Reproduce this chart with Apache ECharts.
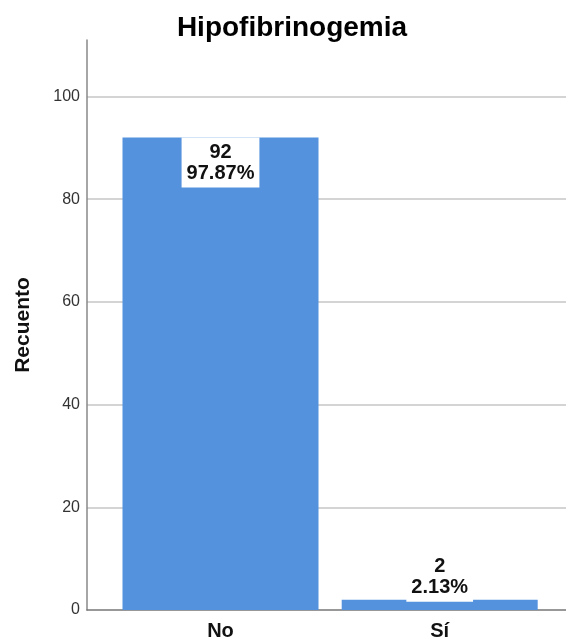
<!DOCTYPE html>
<html>
<head>
<meta charset="utf-8">
<script src="https://cdn.jsdelivr.net/npm/echarts@6/dist/echarts.min.js"></script>
<style>html,body{margin:0;padding:0;background:#fff;}#c{width:566px;height:640px;}</style>
</head>
<body>
<div id="c"></div>
<script>
var categories = ['No', 'Sí'];
var counts = [92, 2];
var percents = ['97.87%', '2.13%'];
var yTicks = [0, 20, 40, 60, 80, 100];
var titleText = 'Hipofibrinogemia';
var yName = 'Recuento';

var FONT = '"Liberation Sans", Arial, sans-serif';
var chart = echarts.init(document.getElementById('c'), null, {renderer: 'canvas'});

var labelBase = {
  show: true,
  fontFamily: FONT,
  fontSize: 20,
  fontWeight: 'bold',
  color: '#111',
  lineHeight: 21,
  backgroundColor: '#fff',
  padding: [4, 5],
  align: 'center'
};

var seriesData = counts.map(function (v, i) {
  var lbl = Object.assign({}, labelBase, {
    formatter: counts[i] + '\n' + percents[i]
  });
  if (v > 50) { lbl.position = 'insideTop'; lbl.distance = 0; }
  else { lbl.position = 'top'; lbl.distance = -2; }
  return { value: v, label: lbl };
});

chart.setOption({
  animation: false,
  backgroundColor: '#fff',
  title: {
    text: titleText,
    left: 287, top: 9, textAlign: 'center',
    textStyle: {fontFamily: FONT, fontSize: 28, fontWeight: 'bold', color: '#000'}
  },
  grid: [
    {left: 87, right: 0, top: 40, bottom: 30, outerBoundsMode: 'none', containLabel: false},
    {left: 110.9, right: 16.7, top: 40, bottom: 30, outerBoundsMode: 'none', containLabel: false}
  ],
  xAxis: [
    {gridIndex: 0, type: 'value', min: 0, max: 1,
     axisLine: {show: true, lineStyle: {color: '#777', width: 1.5}},
     axisTick: {show: false}, axisLabel: {show: false}, splitLine: {show: false}},
    {gridIndex: 1, type: 'category', data: categories,
     axisLine: {show: false}, axisTick: {show: false},
     axisLabel: {fontFamily: FONT, fontSize: 20, fontWeight: 'bold', color: '#111', margin: 11}}
  ],
  yAxis: [
    {gridIndex: 0, type: 'value', min: 0, max: 111, interval: 20,
     name: yName, nameLocation: 'middle', nameRotate: 90, nameGap: 53,
     nameTextStyle: {fontFamily: FONT, fontSize: 21, fontWeight: 'bold', color: '#111'},
     axisLine: {show: true, lineStyle: {color: '#888', width: 1.5}},
     axisTick: {show: false},
     axisLabel: {fontFamily: FONT, fontSize: 16, color: '#333', margin: 7, showMaxLabel: false,
       formatter: function (v) { return yTicks.indexOf(v) >= 0 ? String(v) : ''; }},
     splitLine: {show: true, showMaxLine: false, showMinLine: false, lineStyle: {color: '#d4d4d4', width: 2}}},
    {gridIndex: 1, type: 'value', min: 0, max: 111, show: false}
  ],
  series: [{
    type: 'bar',
    xAxisIndex: 1, yAxisIndex: 1,
    barWidth: 196,
    itemStyle: {color: '#5592DE'},
    data: seriesData
  }]
});
</script>
</body>
</html>
